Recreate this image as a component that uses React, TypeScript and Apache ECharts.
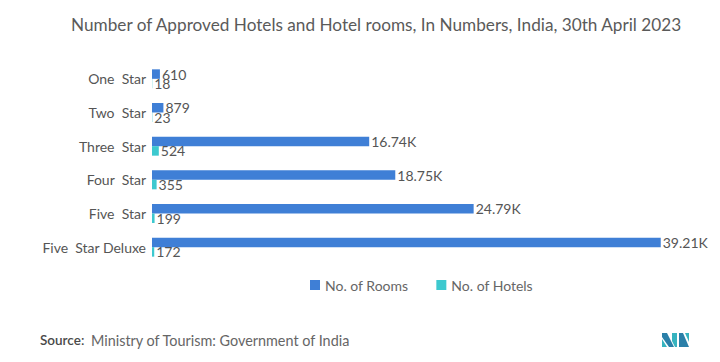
import React, { useEffect, useRef } from "react";
import * as echarts from "echarts";

const categories = ["One  Star", "Two  Star", "Three  Star", "Four  Star", "Five  Star", "Five  Star Deluxe"];
const rooms = [610, 879, 16740, 18750, 24790, 39210];
const hotels = [18, 23, 524, 355, 199, 172];
const seriesNames = ["No. of Rooms", "No. of Hotels"];

const FONT = "Lato, 'Noto Sans', sans-serif";

const fmt = (v: number) => (v >= 1000 ? (v / 1000).toFixed(2) + "K" : String(v));

export default function App() {
  const ref = useRef<HTMLDivElement>(null);
  useEffect(() => {
    if (!ref.current) return;
    const chart = echarts.init(ref.current, undefined, { renderer: "svg" });
    chart.setOption({
      animation: false,
      backgroundColor: "#fff",
      textStyle: { fontFamily: FONT },
      title: {
        text: "Number of Approved Hotels and Hotel rooms, In Numbers, India, 30th April 2023",
        left: 66,
        top: 11,
        textStyle: { fontFamily: FONT, fontSize: 17.2, fontWeight: "normal", color: "#5a5a5a" },
      },
      legend: {
        data: seriesNames,
        top: 273,
        left: 305,
        itemWidth: 10,
        itemHeight: 10,
        itemGap: 28,
        icon: "rect",
        textStyle: { fontFamily: FONT, fontSize: 14, color: "#666" },
      },
      grid: { left: 152, top: 62, width: 519, height: 202, containLabel: false },
      xAxis: {
        type: "value",
        min: 0,
        max: 40000,
        show: false,
      },
      yAxis: {
        type: "category",
        data: categories,
        inverse: true,
        axisLine: { show: false },
        axisTick: { show: false },
        axisLabel: { fontFamily: FONT, fontSize: 14, color: "#555", margin: 6 },
      },
      series: [
        {
          name: seriesNames[0],
          type: "bar",
          data: rooms,
          barWidth: 9.5,
          barGap: "0%",
          itemStyle: { color: "#3f7fd6" },
          label: {
            show: true,
            position: "right",
            distance: 2,
            formatter: (p: any) => fmt(p.value),
            fontFamily: FONT,
            fontSize: 14,
            color: "#555",
          },
        },
        {
          name: seriesNames[1],
          type: "bar",
          data: hotels,
          barWidth: 9.5,
          barGap: "0%",
          itemStyle: { color: "#3dc9cf" },
          label: {
            show: true,
            position: "right",
            distance: 2,
            formatter: (p: any) => fmt(p.value),
            fontFamily: FONT,
            fontSize: 14,
            color: "#555",
          },
        },
      ],
      graphic: [
        {
          type: "text",
          left: 40,
          top: 333,
          style: {
            text: "{a|Source:}  {b|Ministry of Tourism: Government of India}",
            rich: {
              a: { fontFamily: FONT, fontSize: 13.5, fontWeight: 600, fill: "#4a4a4a", color: "#4a4a4a" },
              b: { fontFamily: FONT, fontSize: 14.4, fill: "#666", color: "#666" },
            },
          },
        },
        {
          type: "group",
          left: 662,
          top: 333,
          children: [
            { type: "polygon", shape: { points: [[0, 0], [5, 0], [12, 14], [7, 14], [0, 4]] }, style: { fill: "#2a7fa8" } },
            { type: "polygon", shape: { points: [[0, 6], [5, 14], [0, 14]] }, style: { fill: "#36b3bf" } },
            { type: "polygon", shape: { points: [[10, 0], [15, 0], [15, 14], [13, 14], [10, 8]] }, style: { fill: "#36b3bf" } },
            { type: "polygon", shape: { points: [[17, 0], [21, 0], [27, 14], [17, 14]] }, style: { fill: "#2a7fa8" } },
            { type: "polygon", shape: { points: [[23, 0], [27, 0], [27, 9]] }, style: { fill: "#36b3bf" } },
          ],
        },
      ],
    });
    return () => chart.dispose();
  }, []);
  return <div ref={ref} style={{ position: "absolute", left: 0, top: 0, width: 720, height: 362 }} />;
}
